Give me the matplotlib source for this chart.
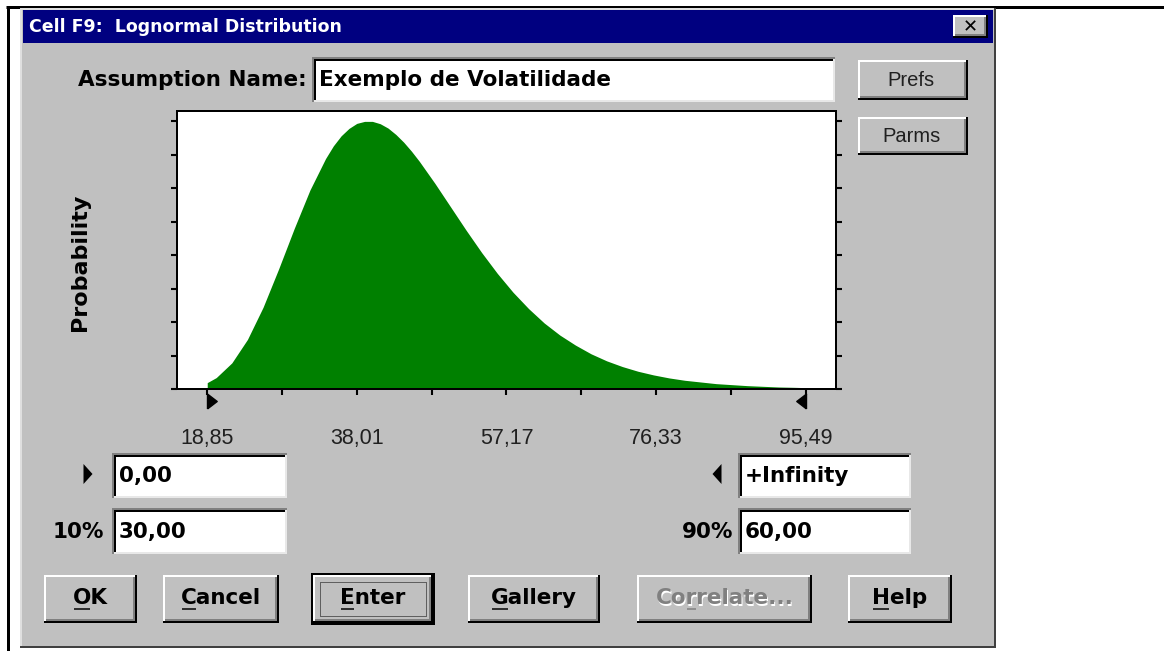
import matplotlib
matplotlib.use("Agg")
import matplotlib.pyplot as plt
from matplotlib.patches import Rectangle, Polygon
from matplotlib.path import Path
from matplotlib.markers import MarkerStyle
import matplotlib.transforms as mtransforms

# ---------------- data ----------------
x_values = [18.85, 20, 22, 24, 26, 28, 30, 32, 34, 35, 36, 37, 38, 39, 40, 41, 42, 43,
            44, 45, 46, 48, 50, 52, 54, 56, 58, 60, 62, 64, 66, 68, 70, 72, 74, 76,
            78, 80, 82, 84, 86, 88, 90, 92, 94, 95.49]
probability = [0.19, 0.34, 0.78, 1.48, 2.44, 3.59, 4.80, 5.94, 6.88, 7.26, 7.56, 7.78, 7.93,
               7.99, 7.99, 7.92, 7.79, 7.60, 7.37, 7.10, 6.80, 6.14, 5.44, 4.74, 4.07,
               3.45, 2.89, 2.40, 1.97, 1.61, 1.31, 1.05, 0.84, 0.67, 0.53, 0.42, 0.33,
               0.26, 0.21, 0.16, 0.13, 0.10, 0.08, 0.06, 0.05, 0.04]
x_tick_values = [18.85, 38.01, 57.17, 76.33, 95.49]
x_tick_labels = ["18,85", "38,01", "57,17", "76,33", "95,49"]
x_minor_values = [28.43, 47.59, 66.75, 85.91]
y_tick_values = [0, 1, 2, 3, 4, 5, 6, 7, 8]
lower_bound = 18.85
upper_bound = 95.49

title_text = "Cell F9:  Lognormal Distribution"
name_label = "Assumption Name:"
assumption_name = "Exemplo de Volatilidade"
y_label = "Probability"
min_value = "0,00"
max_value = "+Infinity"
pct_low_label, pct_low_value = "10%", "30,00"
pct_high_label, pct_high_value = "90%", "60,00"
side_buttons = ["Prefs", "Parms"]
bottom_buttons = ["OK", "Cancel", "Enter", "Gallery", "Correlate...", "Help"]
mnemonic_index = [0, 0, 0, 0, 2, 0]

# ---------------- figure ----------------
W, H = 1164, 651
fig = plt.figure(figsize=(W / 100, H / 100), dpi=100)
fig.patch.set_facecolor("white")
bg = fig.add_axes([0, 0, 1, 1])
bg.set_xlim(0, W)
bg.set_ylim(H, 0)
bg.axis("off")

GREY = "#C0C0C0"
DARK = "#808080"
BOLD = dict(family=["DejaVu Sans"], fontweight="bold")
NARROW = ["Liberation Sans", "DejaVu Sans"]
PT = 0.72  # points per pixel


def hline(x0, x1, y, c, lw=1):
    bg.plot([x0, x1], [y, y], color=c, lw=lw * PT, solid_capstyle="butt")


def vline(x, y0, y1, c, lw=1):
    bg.plot([x, x], [y0, y1], color=c, lw=lw * PT, solid_capstyle="butt")


def rect(x0, y0, x1, y1, fc):
    bg.add_patch(Rectangle((x0, y0), x1 - x0, y1 - y0, fc=fc, ec="none"))


def raised(x0, y0, x1, y1, focus=False):
    rect(x0, y0, x1, y1, GREY)
    hline(x0, x1, y0 + 1, "white", 2)
    vline(x0 + 1, y0, y1, "white", 2)
    hline(x0 + 2, x1 - 2, y1 - 3, DARK, 2)
    vline(x1 - 3, y0 + 2, y1 - 2, DARK, 2)
    hline(x0, x1, y1 - 1, "black", 2)
    vline(x1 - 1, y0, y1, "black", 2)
    if focus:
        bg.add_patch(Rectangle((x0 - 1, y0 - 1), x1 - x0 + 2, y1 - y0 + 2,
                               fc="none", ec="black", lw=2 * PT))
        bg.add_patch(Rectangle((x0 + 7, y0 + 7), x1 - x0 - 14, y1 - y0 - 14,
                               fc="none", ec="black", lw=1 * PT, ls=(0, (1, 1))))


def sunken(x0, y0, x1, y1):
    rect(x0, y0, x1, y1, "white")
    hline(x0, x1, y0 + 1, DARK, 2)
    vline(x0 + 1, y0, y1, DARK, 2)
    hline(x0 + 2, x1 - 2, y0 + 3, "black", 2)
    vline(x0 + 3, y0 + 2, y1 - 2, "black", 2)
    hline(x0 + 2, x1, y1 - 1, "#E8E8E8", 2)
    vline(x1 - 1, y0 + 2, y1, "#E8E8E8", 2)


def tri(cx, cy, w, h, right=True):
    if right:
        pts = [(cx - w / 2, cy - h / 2), (cx + w / 2, cy), (cx - w / 2, cy + h / 2)]
    else:
        pts = [(cx + w / 2, cy - h / 2), (cx - w / 2, cy), (cx + w / 2, cy + h / 2)]
    bg.add_patch(Polygon(pts, closed=True, fc="black", ec="none"))


# outer page border lines
hline(6, W, 7, "black", 3)
vline(8, 6, H, "black", 3)

# dialog body
rect(20, 8, 996, 648, GREY)
hline(20, 996, 9, "#DFDFDF", 2)
vline(21, 8, 648, "#DFDFDF", 2)
hline(20, 996, 647, "#404040", 2)
vline(995, 8, 648, "#404040", 2)

# title bar
rect(23, 10, 993, 43, "#000080")
bg.text(29, 27, title_text, color="white", fontsize=12.5, va="center", ha="left", **BOLD)
raised(953, 15, 988, 38)
bg.text(970, 27, "\u2715", color="black", fontsize=13, ha="center", va="center",
        family=["DejaVu Sans"], fontweight="bold")

# assumption name
bg.text(307, 80, name_label, fontsize=15.5, ha="right", va="center", **BOLD)
sunken(312, 57, 835, 102)
bg.text(319, 80, assumption_name, fontsize=15.5, ha="left", va="center", **BOLD)

# side buttons
for (label, (y0, y1)) in zip(side_buttons, [(60, 100), (117, 155)]):
    raised(858, y0, 968, y1)
    bg.text(911, (y0 + y1) / 2, label, fontsize=14.5, ha="center", va="center",
            family=NARROW, color="#202020")

# y label
bg.text(80, 262, y_label, rotation=90, fontsize=16, ha="center", va="center", **BOLD)

# ---------------- plot ----------------
L, R, T, B = 177, 836, 111, 389
ax = fig.add_axes([L / W, 1 - B / H, (R - L) / W, (B - T) / H])
ax.set_facecolor("white")
ax.fill_between(x_values, probability, color="#008000", lw=0)
span = upper_bound - lower_bound
ax.set_xlim(lower_bound - 0.0505 * span, upper_bound + 0.0505 * span)
ax.set_ylim(0, 8.3)
for s in ax.spines.values():
    s.set_color("black")
    s.set_linewidth(2 * PT)
ax.set_xticks(x_tick_values)
ax.set_xticklabels(x_tick_labels, family=NARROW, fontsize=15.5, color="#202020")
ax.set_xticks(x_minor_values, minor=True)
ax.set_yticks(y_tick_values)
ax.tick_params(axis="x", which="both", direction="out", length=4, width=1.5, pad=24)
ax.tick_params(axis="y", which="both", direction="out", length=4, width=1.5,
               left=True, right=True, labelleft=False, labelright=False)

trans = mtransforms.blended_transform_factory(ax.transData, ax.transAxes)
right_mark = MarkerStyle(Path([(0, -1), (1.3, 0), (0, 1), (0, -1)]))
left_mark = MarkerStyle(Path([(0, -1), (-1.3, 0), (0, 1), (0, -1)]))
ax.plot([lower_bound], [-0.043], marker=right_mark, ms=14, color="black",
        transform=trans, clip_on=False, ls="none")
ax.plot([upper_bound], [-0.043], marker=left_mark, ms=14, color="black",
        transform=trans, clip_on=False, ls="none")

# ---------------- lower fields ----------------
tri(88, 474, 9, 20, right=True)
sunken(112, 453, 287, 498)
bg.text(119, 476, min_value, fontsize=15.5, ha="left", va="center", **BOLD)
bg.text(104, 532, pct_low_label, fontsize=15.5, ha="right", va="center", **BOLD)
sunken(112, 508, 287, 554)
bg.text(119, 532, pct_low_value, fontsize=15.5, ha="left", va="center", **BOLD)

tri(717, 474, 9, 20, right=False)
sunken(738, 453, 911, 498)
bg.text(745, 476, max_value, fontsize=15.5, ha="left", va="center", **BOLD)
bg.text(733, 532, pct_high_label, fontsize=15.5, ha="right", va="center", **BOLD)
sunken(738, 508, 911, 554)
bg.text(745, 532, pct_high_value, fontsize=15.5, ha="left", va="center", **BOLD)

# ---------------- bottom buttons ----------------
btn_x = [(44, 137), (163, 279), (313, 433), (468, 600), (637, 812), (848, 952)]
by0, by1 = 575, 623
fig.canvas.draw()
renderer = fig.canvas.get_renderer()
for label, (x0, x1), mi in zip(bottom_buttons, btn_x, mnemonic_index):
    disabled = label.startswith("Correlate")
    raised(x0, by0, x1, by1, focus=(label == "Enter"))
    cx, cy = (x0 + x1) / 2, (by0 + by1) / 2 - 1
    if disabled:
        bg.text(cx + 1.5, cy + 1.5, label, fontsize=15.5, ha="center", va="center",
                color="white", **BOLD)
    t = bg.text(cx, cy, label, fontsize=15.5, ha="center", va="center",
                color=DARK if disabled else "black", **BOLD)
    bb = t.get_window_extent(renderer)
    pre = bg.text(0, 0, label[:mi], fontsize=15.5, **BOLD)
    pre2 = bg.text(0, 0, label[:mi + 1], fontsize=15.5, **BOLD)
    w0 = pre.get_window_extent(renderer).width if mi > 0 else 0
    w1 = pre2.get_window_extent(renderer).width
    pre.remove()
    pre2.remove()
    ux0 = bb.x0 + w0 + 1
    ux1 = bb.x0 + w1 - 1
    hline(ux0, ux1, cy + 11, DARK if disabled else "black", 1.5)

fig.savefig("out.png", dpi=100, facecolor="white")
